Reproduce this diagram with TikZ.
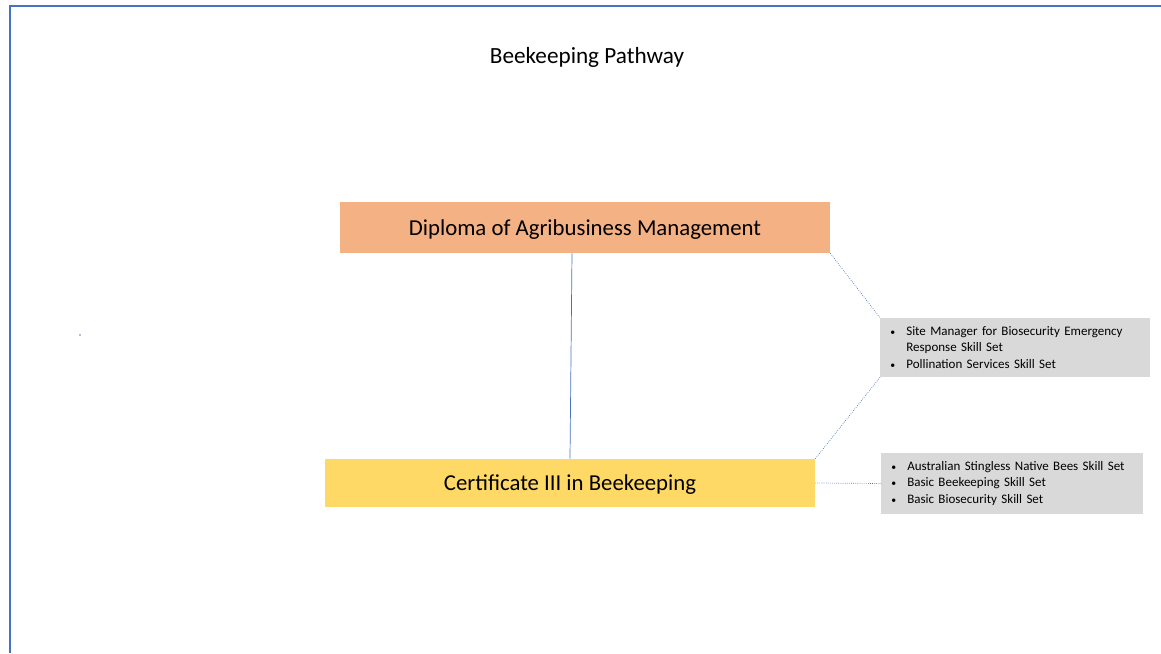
\documentclass[tikz,border=0pt]{standalone}
\usepackage{fontspec}
\setmainfont{Carlito}

\definecolor{frameblue}{HTML}{4472C4}
\definecolor{diplomaorange}{HTML}{F4B183}
\definecolor{certyellow}{HTML}{FFD966}
\definecolor{skillgray}{HTML}{D9D9D9}

\newcommand{\skillbullet}{\makebox[0.4cm][l]{\fontsize{7}{7}\selectfont\textbullet}}
\newcommand{\skillindent}{\makebox[0.4cm][l]{}}

\begin{document}
\begin{tikzpicture}[
    qualbox/.style={minimum width=12.25cm, inner sep=0pt, text depth=0pt, font=\fontsize{16.2}{19}\selectfont},
    skillbox/.style={fill=skillgray, anchor=west, align=left, inner xsep=0.25cm, inner ysep=0pt, font=\fontsize{9.25}{11.7}\selectfont},
    link/.style={draw=frameblue, line width=0.5pt},
    dotlink/.style={link, densely dotted}
]
    \useasboundingbox (0,0) rectangle (29.025,16.325);
    % page frame
    \draw[frameblue, line width=1pt] (0.25,0) -- (0.25,16.175) -- (29.025,16.175);
    \fill[frameblue!60!gray] (2,7.95) circle (0.02);

    \node (T) at (14.675,14.88) {\fontsize{16.5}{19}\selectfont Beekeeping Pathway};

    \node[qualbox, fill=diplomaorange, minimum height=1.275cm] (D) at (14.625,10.6375) {Diploma of Agribusiness Management};
    \node[qualbox, fill=certyellow, minimum height=1.2cm] (C) at (14.25,4.25) {Certificate III in Beekeeping};

    \node[skillbox, text width=6.25cm, minimum height=1.475cm] (S1) at (22,7.6375) {%
        \skillbullet Site Manager for Biosecurity Emergency\\
        \skillindent Response Skill Set\\
        \skillbullet Pollination Services Skill Set};
    \node[skillbox, text width=6.05cm, minimum height=1.525cm] (S2) at (22.025,4.2375) {%
        \skillbullet Australian Stingless Native Bees Skill Set\\
        \skillbullet Basic Beekeeping Skill Set\\
        \skillbullet Basic Biosecurity Skill Set};

    \draw[link] ([xshift=-0.325cm]D.south) -- (C.north);
    \draw[dotlink] (D.south east) -- (S1.north west);
    \draw[dotlink] (C.north east) -- (S1.south west);
    \draw[dotlink] (C.east) -- (S2.west);
\end{tikzpicture}
\end{document}
